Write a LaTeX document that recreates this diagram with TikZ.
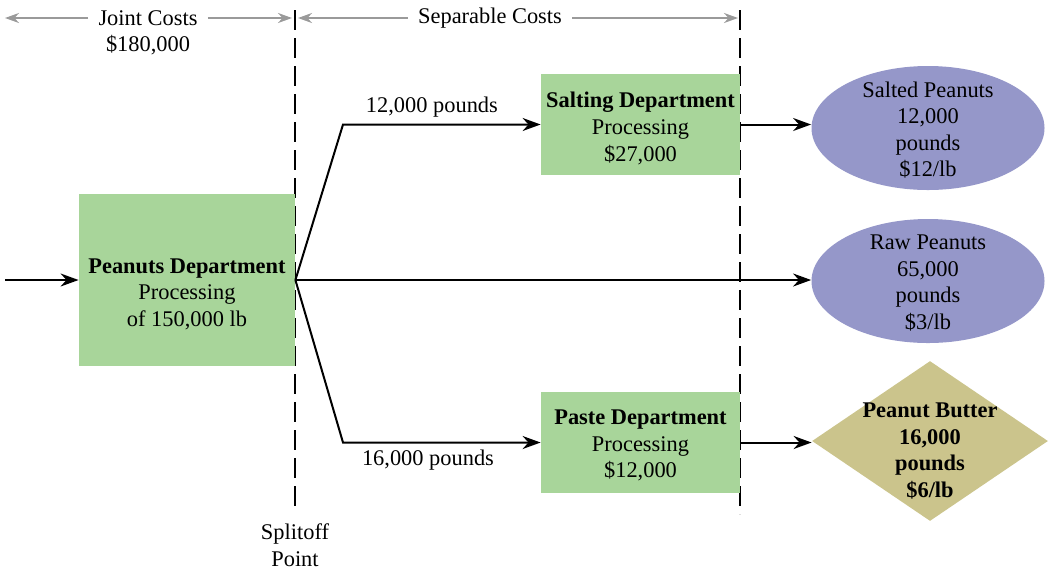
\documentclass[tikz,border=0pt]{standalone}
\usepackage{amsmath}
\usepackage{fontspec}
\setmainfont{Liberation Serif}
\usepackage{tikz}
\usetikzlibrary{positioning,shapes.geometric,arrows.meta}

\definecolor{deptgreen}{HTML}{A8D59A}
\definecolor{prodblue}{HTML}{9597C9}
\definecolor{butterkhaki}{HTML}{CBC48C}
\definecolor{costgray}{HTML}{9A9A9A}

\begin{document}
\begin{tikzpicture}[>={Stealth[length=9pt,width=6.5pt]}, x=0.5pt, y=-0.5pt,
    font=\fontsize{11.2}{13.3}\selectfont,
    dept/.style={fill=deptgreen, align=center, inner sep=0pt},
    prod/.style={ellipse, fill=prodblue, minimum width=116.5pt, minimum height=62pt, inner sep=0pt},
    butter/.style={diamond, fill=butterkhaki, minimum width=118pt, minimum height=80pt, inner sep=0pt},
    flow/.style={->, line width=1pt},
    splitline/.style={dash pattern=on 10pt off 4pt, line width=1.2pt},
    costarrow/.style={-{Stealth[length=7pt,width=5pt]}, costgray, line width=1pt}]
    \useasboundingbox (0,0) rectangle (1048,569);

    % cost headings
    \node[inner sep=5pt] (joint) at (148,18) {Joint Costs};
    \node (jointamt) at (148,45) {\$180,000};
    \node[inner sep=5pt] (sep) at (490,18) {Separable Costs};
    \coordinate (jl) at (5,18);
    \coordinate (jr) at (292,18);
    \coordinate (sl) at (298,18);
    \coordinate (sr) at (738,18);
    \draw[costarrow] (joint.west) -- (jl);
    \draw[costarrow] (joint.east) -- (jr);
    \draw[costarrow] (sep.west) -- (sl);
    \draw[costarrow] (sep.east) -- (sr);

    % split-off and end of separable costs
    \coordinate (ltop) at (295,10);
    \coordinate (lbot) at (295,510);
    \coordinate (rtop) at (740,10);
    \coordinate (rbot) at (740,514);
    \draw[splitline] (ltop) -- (lbot);
    \draw[splitline] (rtop) -- (rbot);
    \node[align=center] (splitoff) at (295,545) {Splitoff\\Point};

    % departments
    \node[dept, minimum width=108pt, minimum height=86pt,
        label={[align=center, yshift=-7pt]center:{\textbf{Peanuts Department}\\Processing\\of 150,000 lb}}] (pd) at (187,280) {};
    \node[dept, minimum width=99.5pt, minimum height=50.5pt,
        label={[align=center, yshift=-2pt]center:{\textbf{Salting Department}\\Processing\\\$27,000}}] (sd) at (640.5,124.5) {};
    \node[dept, minimum width=99.5pt, minimum height=50.5pt,
        label={[align=center, yshift=-1.5pt]center:{\textbf{Paste Department}\\Processing\\\$12,000}}] (pa) at (640.5,442.5) {};

    % products
    \node[prod, label={[align=center, yshift=-1pt]center:{Salted Peanuts\\12,000\\pounds\\\$12/lb}}] (sp) at (928,128) {};
    \node[prod, label={[align=center, yshift=-1pt]center:{Raw Peanuts\\65,000\\pounds\\\$3/lb}}] (rp) at (928,281) {};
    \node[butter, label={[align=center, yshift=-5pt]center:{\textbf{Peanut Butter}\\\textbf{16,000}\\\textbf{pounds}\\\textbf{\$6/lb}}}] (pb) at (930,441) {};

    % flows
    \coordinate (feed) at (5,280);
    \coordinate (splitpt) at (pd.east);
    \coordinate (upbend) at (343,124.5);
    \coordinate (lowbend) at (343,442.5);
    \draw[flow] (feed) -- (pd.west);
    \draw[flow] (splitpt) -- (upbend) -- node[above, pos=0.45] {12,000 pounds} (sd.west);
    \draw[flow] (splitpt) -- (lowbend) -- node[below, pos=0.43] {16,000 pounds} (pa.west);
    \draw[flow] (splitpt) -- (splitpt -| rp.west);
    \draw[flow] (sd.east) -- (sd.east -| sp.west);
    \draw[flow] (pa.east) -- (pa.east -| pb.west);
\end{tikzpicture}
\end{document}
